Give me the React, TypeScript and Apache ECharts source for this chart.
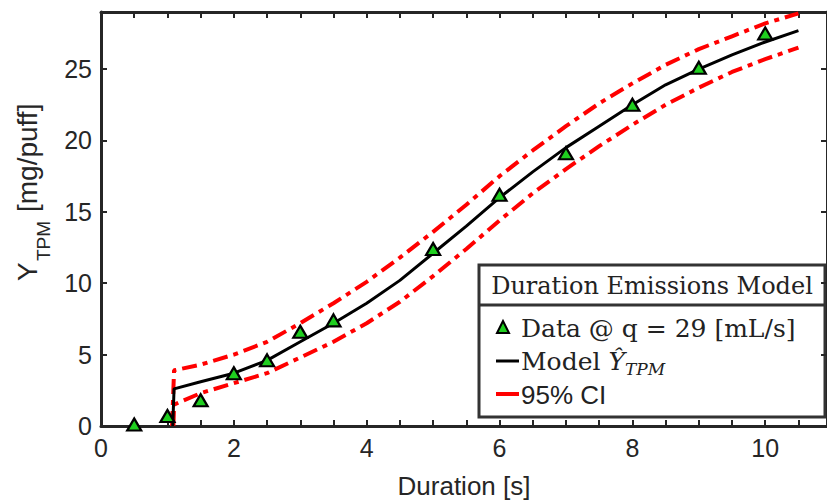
import React, { useEffect, useRef } from "react";
import * as echarts from "echarts";

const dataX = [0.5, 1, 1.5, 2, 2.5, 3, 3.5, 5, 6, 7, 8, 9, 10];
const dataY = [0.1, 0.7, 1.8, 3.7, 4.6, 6.6, 7.4, 12.4, 16.2, 19.1, 22.5, 25.1, 27.5];

const curveX = [1.1, 1.5, 2, 2.5, 3, 3.5, 4, 4.5, 5, 5.5, 6, 6.5, 7, 7.5, 8, 8.5, 9, 9.5, 10, 10.5];
const modelY = [2.6, 3.1, 3.7, 4.6, 5.9, 7.2, 8.6, 10.2, 12.1, 14.0, 16.0, 17.8, 19.5, 21.0, 22.5, 23.9, 25.0, 26.0, 26.9, 27.7];
const upperY = [3.9, 4.3, 5.0, 5.9, 7.2, 8.6, 10.1, 11.8, 13.6, 15.5, 17.5, 19.3, 21.0, 22.6, 24.0, 25.3, 26.4, 27.3, 28.2, 28.9];
const lowerY = [1.5, 2.3, 3.0, 3.7, 4.8, 5.9, 7.2, 8.7, 10.5, 12.4, 14.4, 16.3, 18.0, 19.6, 21.1, 22.5, 23.7, 24.8, 25.7, 26.5];
// start points of the step (value is 0 before onset)
const modelStart = [1.08, 0];
const upperStart = [1.07, 0];
const lowerStart = [1.09, 0];

const xTickLabels = [0, 2, 4, 6, 8, 10];
const yTickLabels = [0, 5, 10, 15, 20, 25];

const AXIS = "#262626";

export default function App() {
  const ref = useRef<HTMLDivElement>(null);
  useEffect(() => {
    const chart = echarts.init(ref.current!, null, { renderer: "svg" });
    const zip = (start: number[], ys: number[]) => [start, ...curveX.map((x, i) => [x, ys[i]])];
    const axisCommon = {
      axisLine: { show: true, onZero: false, lineStyle: { color: AXIS, width: 3 } },
      splitLine: { show: false },
      axisTick: { show: true, inside: true, length: 6, lineStyle: { color: AXIS, width: 2 } },
    };
    const labelStyle = { color: AXIS, fontFamily: "Liberation Sans", fontSize: 25 };
    const ciStyle = { color: "#ff0000", width: 4, type: [15, 6, 5, 6] };
    const option: any = {
      animation: false,
      backgroundColor: "#fff",
      grid: { left: 101, right: -2, top: 12, bottom: 78, containLabel: false },
      xAxis: [
        {
          type: "value", min: 0, max: 10.93, interval: 0.5, position: "bottom",
          ...axisCommon,
          axisLabel: {
            ...labelStyle, margin: 9, showMaxLabel: false,
            formatter: (v: number) => (xTickLabels.includes(v) ? String(v) : ""),
          },
          name: "Duration [s]", nameLocation: "middle", nameGap: 47,
          nameTextStyle: { color: AXIS, fontFamily: "Liberation Sans", fontSize: 26 },
        },
        {
          type: "value", min: 0, max: 10.93, interval: 0.5, position: "top",
          ...axisCommon,
          axisLabel: { show: false },
        },
      ],
      yAxis: [
        {
          type: "value", min: 0, max: 29, interval: 5, position: "left",
          ...axisCommon,
          axisLabel: {
            ...labelStyle, margin: 9, showMaxLabel: false,
            formatter: (v: number) => (yTickLabels.includes(v) ? String(v) : ""),
          },
        },
        {
          type: "value", min: 0, max: 29, interval: 5, position: "right",
          ...axisCommon,
          axisLabel: { show: false },
        },
      ],
      series: [
        {
          type: "line", name: "upper", data: zip(upperStart, upperY), showSymbol: false, symbol: "none",
          smooth: false, lineStyle: ciStyle, z: 2,
        },
        {
          type: "line", name: "lower", data: zip(lowerStart, lowerY), showSymbol: false, symbol: "none",
          smooth: false, lineStyle: ciStyle, z: 2,
        },
        {
          type: "line", name: "Model", data: zip(modelStart, modelY), showSymbol: false, symbol: "none",
          smooth: false,
          lineStyle: { color: "#000", width: 3 },
          z: 3,
        },
        {
          type: "scatter", name: "Data", data: dataX.map((x, i) => [x, dataY[i]]),
          symbol: "triangle", symbolSize: [14, 12],
          itemStyle: { color: "#1fcf1f", borderColor: "#000", borderWidth: 2.2, opacity: 1 },
          z: 4,
        },
      ],
      graphic: [
        // Y axis title
        {
          type: "text", x: 41, y: 281, rotation: Math.PI / 2,
          style: { text: "Y", font: '28px "Liberation Sans"', fill: AXIS, textAlign: "left", textVerticalAlign: "bottom" },
        },
        {
          type: "text", x: 53, y: 261, rotation: Math.PI / 2,
          style: { text: "TPM", font: '19px "Liberation Sans"', fill: AXIS, textAlign: "left", textVerticalAlign: "bottom" },
        },
        {
          type: "text", x: 41, y: 212, rotation: Math.PI / 2,
          style: { text: "[mg/puff]", font: '28px "Liberation Sans"', fill: AXIS, textAlign: "left", textVerticalAlign: "bottom" },
        },
        // Legend
        {
          type: "group", z: 100,
          children: [
            { type: "rect", shape: { x: 479, y: 265, width: 346, height: 152 }, style: { fill: "#fff", stroke: "#333", lineWidth: 3 } },
            { type: "line", shape: { x1: 479, y1: 305, x2: 825, y2: 305 }, style: { stroke: "#333", lineWidth: 3 } },
            {
              type: "text", x: 652, y: 286,
              style: { text: "Duration Emissions Model", font: '24px "DejaVu Serif"', fill: "#222", textAlign: "center", textVerticalAlign: "middle" },
            },
            {
              type: "polygon", shape: { points: [[503, 321], [497, 333], [509, 333]] },
              style: { fill: "#1fcf1f", stroke: "#000", lineWidth: 2 },
            },
            {
              type: "text", x: 521, y: 328,
              style: { text: "Data @ q = 29 [mL/s]", font: '25px "DejaVu Serif"', fill: "#222", textAlign: "left", textVerticalAlign: "middle" },
            },
            { type: "line", shape: { x1: 496, y1: 361, x2: 519, y2: 361 }, style: { stroke: "#000", lineWidth: 3 } },
            {
              type: "text", x: 521, y: 361,
              style: {
                text: "{r|Model }{i|Ŷ}{s|TPM}",
                fill: "#222", textAlign: "left", textVerticalAlign: "middle",
                rich: {
                  r: { font: '25px "DejaVu Serif"', fill: "#222", lineHeight: 32, verticalAlign: "middle" },
                  i: { font: 'italic 25px "DejaVu Serif"', fill: "#222", lineHeight: 32, verticalAlign: "middle" },
                  s: { font: 'italic 17px "DejaVu Serif"', fill: "#222", lineHeight: 17, verticalAlign: "bottom" },
                },
              },
            },
            { type: "line", shape: { x1: 496, y1: 394, x2: 519, y2: 394 }, style: { stroke: "#ff0000", lineWidth: 4 } },
            {
              type: "text", x: 521, y: 395,
              style: { text: "95% CI", font: '26px "Liberation Sans"', fill: "#222", textAlign: "left", textVerticalAlign: "middle" },
            },
          ],
        },
      ],
    };
    chart.setOption(option);
    return () => chart.dispose();
  }, []);
  return (
    <div
      ref={ref}
      style={{ position: "fixed", left: 0, top: 0, width: 827, height: 504, background: "#fff" }}
    />
  );
}
